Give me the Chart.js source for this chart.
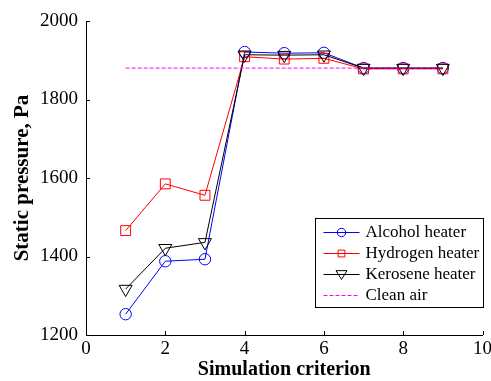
<!DOCTYPE html>
<html>
<head>
<meta charset="utf-8">
<script src="https://cdn.jsdelivr.net/npm/chart.js@4/dist/chart.umd.min.js"></script>
<style>
  html, body { margin: 0; padding: 0; background: #fff; }
  #wrap { width: 491px; height: 381px; position: relative; }
</style>
</head>
<body>
<div id="wrap"><canvas id="c"></canvas></div>
<script>
// Simulation criterion (x) and static pressure readings (Pa) per heater
const criteria = [1, 2, 3, 4, 5, 6, 7, 8, 9];
const alcoholHeater  = [1253, 1388, 1393, 1921, 1918, 1919, 1880, 1880, 1880];
const hydrogenHeater = [1466, 1585, 1556, 1909, 1903, 1905, 1878, 1878, 1878];
const keroseneHeater = [1317, 1421, 1436, 1914, 1913, 1914, 1880, 1880, 1880];
const cleanAir       = [1880, 1880, 1880, 1880, 1880, 1880, 1880, 1880, 1880];
const xTicks = [0, 2, 4, 6, 8, 10];
const yTicks = [1200, 1400, 1600, 1800, 2000];

const SERIF = '"Liberation Serif"';
const toPoints = vals => criteria.map((c, i) => ({ x: c, y: vals[i] }));

// Tick marks pointing into the plot
const inwardTicks = {
  id: 'inwardTicks',
  afterDatasetsDraw(chart) {
    const { ctx, chartArea: a, scales: { x, y } } = chart;
    ctx.save();
    ctx.strokeStyle = '#000';
    ctx.lineWidth = 1;
    ctx.beginPath();
    xTicks.forEach(v => {
      const px = Math.round(x.getPixelForValue(v)) + 0.5;
      ctx.moveTo(px, a.bottom);
      ctx.lineTo(px, a.bottom - 4);
    });
    yTicks.forEach(v => {
      const py = Math.round(y.getPixelForValue(v)) + 0.5;
      ctx.moveTo(a.left, py);
      ctx.lineTo(a.left + 4, py);
    });
    ctx.stroke();
    ctx.restore();
  }
};

function drawMarker(ctx, style, cx, cy, r, color) {
  ctx.save();
  ctx.strokeStyle = color;
  ctx.lineWidth = 1;
  ctx.setLineDash([]);
  ctx.beginPath();
  if (style === 'circle') {
    ctx.arc(cx, cy, r, 0, Math.PI * 2);
  } else if (style === 'rect') {
    ctx.rect(cx - r, cy - r, 2 * r, 2 * r);
  } else if (style === 'triangle') {
    ctx.moveTo(cx - r, cy - r * 0.7);
    ctx.lineTo(cx + r, cy - r * 0.7);
    ctx.lineTo(cx, cy + r * 0.9);
    ctx.closePath();
  }
  ctx.stroke();
  ctx.restore();
}

// Boxed legend in the lower right corner of the plot
const boxedLegend = {
  id: 'boxedLegend',
  afterDraw(chart) {
    const { ctx, chartArea: a } = chart;
    const w = 168, h = 89;
    const left = Math.round(a.right - w) + 0.5;
    const top = Math.round(a.bottom - 28 - h) + 0.5;
    ctx.save();
    ctx.fillStyle = '#fff';
    ctx.fillRect(left, top, w, h);
    ctx.strokeStyle = '#000';
    ctx.lineWidth = 1;
    ctx.strokeRect(left, top, w, h);
    const legendMarks = [
      { style: 'circle', r: 4.2 },
      { style: 'rect', r: 3.4 },
      { style: 'triangle', r: 5.5 },
      { style: null, r: 0 }
    ];
    chart.data.datasets.forEach((ds, i) => {
      const cy = Math.round(top + 13.5 + i * 21) + 0.5;
      ctx.save();
      ctx.strokeStyle = ds.borderColor;
      ctx.lineWidth = 1;
      ctx.setLineDash(ds.borderDash || []);
      ctx.beginPath();
      ctx.moveTo(left + 8, cy);
      ctx.lineTo(left + 44, cy);
      ctx.stroke();
      ctx.restore();
      const m = legendMarks[i];
      if (m.style) drawMarker(ctx, m.style, left + 26, cy, m.r, ds.borderColor);
      ctx.fillStyle = '#000';
      ctx.font = 'normal 17px ' + SERIF;
      ctx.textBaseline = 'middle';
      ctx.textAlign = 'left';
      ctx.fillText(ds.label, left + 50, cy);
    });
    ctx.restore();
  }
};

const lineDataset = (label, vals, color, pointStyle, radius, order, extra) => Object.assign({
  label,
  data: toPoints(vals),
  borderColor: color,
  backgroundColor: 'rgba(0,0,0,0)',
  borderWidth: 1,
  pointStyle,
  pointRadius: radius,
  pointBorderWidth: 1,
  pointBorderColor: color,
  pointBackgroundColor: 'rgba(0,0,0,0)',
  tension: 0,
  order
}, extra || {});

Chart.defaults.font.family = SERIF;
Chart.defaults.font.weight = 'normal';

new Chart(document.getElementById('c'), {
  type: 'line',
  data: {
    datasets: [
      lineDataset('Alcohol heater', alcoholHeater, '#0000ff', 'circle', 5.7, 3),
      lineDataset('Hydrogen heater', hydrogenHeater, '#ff0000', 'rect', 7, 2),
      lineDataset('Kerosene heater', keroseneHeater, '#000000', 'triangle', 7.5, 1, { pointRotation: 180 }),
      lineDataset('Clean air', cleanAir, '#ff00ff', false, 0, 0, { borderDash: [4, 2] })
    ]
  },
  options: {
    responsive: true,
    maintainAspectRatio: false,
    animation: false,
    events: [],
    layout: { padding: { left: 0, top: 21, right: 7, bottom: 0 } },
    plugins: {
      legend: { display: false },
      tooltip: { enabled: false }
    },
    scales: {
      x: {
        type: 'linear',
        min: 0,
        max: 10,
        afterBuildTicks: s => { s.ticks = xTicks.map(v => ({ value: v })); },
        afterFit: s => { s.height = 46; s.paddingLeft = 0; s.paddingRight = 0; },
        grid: { display: false, drawTicks: false },
        border: { display: true, color: '#000', width: 1 },
        ticks: {
          color: '#000', padding: 3, maxRotation: 0,
          font: { family: SERIF, size: 19, weight: 'normal' },
          callback: v => String(v)
        },
        title: {
          display: true,
          text: 'Simulation criterion',
          color: '#000',
          font: { family: SERIF, size: 20, weight: 'bold', lineHeight: 1.1 },
          padding: { top: 0, bottom: 0 }
        }
      },
      y: {
        type: 'linear',
        min: 1200,
        max: 2000,
        afterBuildTicks: s => { s.ticks = yTicks.map(v => ({ value: v })); },
        afterFit: s => { s.width = 86; s.paddingTop = 0; s.paddingBottom = 0; },
        grid: { display: false, drawTicks: false },
        border: { display: true, color: '#000', width: 1 },
        ticks: {
          color: '#000', padding: 8,
          font: { family: SERIF, size: 19, weight: 'normal' },
          callback: v => String(v)
        },
        title: {
          display: true,
          text: 'Static pressure, Pa',
          color: '#000',
          font: { family: SERIF, size: 21, weight: 'bold', lineHeight: 1.2 },
          padding: { top: 10, bottom: 0 }
        }
      }
    }
  },
  plugins: [inwardTicks, boxedLegend]
});
</script>
</body>
</html>
